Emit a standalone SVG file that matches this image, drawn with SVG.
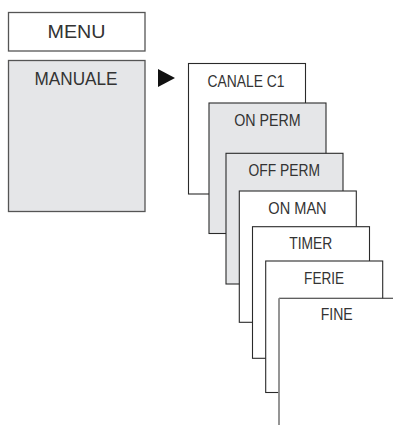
<svg xmlns="http://www.w3.org/2000/svg" width="393" height="425" viewBox="0 0 393 425">
<style>
.t{font-family:"Liberation Sans",Arial,sans-serif;fill:#333;text-anchor:middle;lengthAdjust:spacingAndGlyphs}
.big{font-size:18px}
.sm{font-size:17px}
.m{stroke:#555;stroke-width:1.3}
.b{stroke:#2a2a2a;stroke-width:1.1}
.w{fill:#fff}
.g{fill:#e5e6e8}
</style>
<rect width="393" height="425" fill="#fff"/>
<g id="menu">
<rect class="m w" x="8.5" y="12.5" width="136.5" height="38.5"/>
<text class="t big" x="76.5" y="38.3" textLength="58" lengthAdjust="spacingAndGlyphs">MENU</text>
</g>
<g id="manuale">
<rect class="m g" x="8.5" y="60.5" width="136.5" height="151"/>
<text class="t big" x="76" y="84.6" textLength="83" lengthAdjust="spacingAndGlyphs">MANUALE</text>
</g>
<g id="connectors">
<polygon points="158,69 175,78 158,87" fill="#111"/>
</g>
<g id="canale">
<rect class="b w" x="188.5" y="63.5" width="117" height="130.5"/>
<text class="t sm" x="246" y="86.5" textLength="77" lengthAdjust="spacingAndGlyphs">CANALE C1</text>
</g>
<g id="onperm">
<rect class="b g" x="209" y="103" width="117" height="130.5"/>
<text class="t sm" x="267.4" y="126" textLength="66.5" lengthAdjust="spacingAndGlyphs">ON PERM</text>
</g>
<g id="offperm">
<rect class="b g" x="226" y="153.3" width="117" height="130.7"/>
<text class="t sm" x="284.2" y="175.6" textLength="71.5" lengthAdjust="spacingAndGlyphs">OFF PERM</text>
</g>
<g id="onman">
<rect class="b w" x="239.3" y="191" width="117" height="131.3"/>
<text class="t sm" x="297.5" y="214" textLength="58.3" lengthAdjust="spacingAndGlyphs">ON MAN</text>
</g>
<g id="timer">
<rect class="b w" x="252.5" y="226.7" width="117" height="131.6"/>
<text class="t sm" x="310.8" y="249.3" textLength="43" lengthAdjust="spacingAndGlyphs">TIMER</text>
</g>
<g id="ferie">
<rect class="b w" x="265.7" y="261" width="117" height="131.5"/>
<text class="t sm" x="324.1" y="284" textLength="40" lengthAdjust="spacingAndGlyphs">FERIE</text>
</g>
<g id="fine">
<rect class="w" x="279" y="298.3" width="120" height="130"/>
<line x1="279" y1="298.3" x2="393" y2="298.3" class="b"/>
<line x1="279" y1="298.3" x2="279" y2="425" stroke="#8a8a8a" stroke-width="1.8"/>
<text class="t sm" x="336.7" y="320" textLength="32" lengthAdjust="spacingAndGlyphs">FINE</text>
</g>
</svg>
